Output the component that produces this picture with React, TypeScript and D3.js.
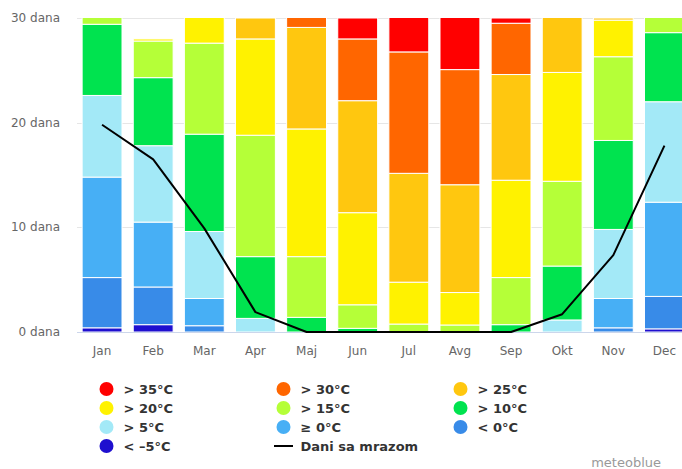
import React, { useRef, useEffect } from 'react';
import * as d3 from 'd3';

const months = ['Jan', 'Feb', 'Mar', 'Apr', 'Maj', 'Jun', 'Jul', 'Avg', 'Sep', 'Okt', 'Nov', 'Dec'];

// days per month in each temperature class (bottom to top of the stack)
const belowMinus5 = [0.4, 0.7, 0, 0, 0, 0, 0, 0, 0, 0, 0, 0.3];
const below0 = [4.8, 3.6, 0.6, 0, 0, 0, 0, 0, 0, 0, 0.4, 3.1];
const above0 = [9.6, 6.2, 2.6, 0, 0, 0, 0, 0, 0, 0, 2.8, 9.0];
const above5 = [7.8, 7.3, 6.4, 1.3, 0, 0, 0, 0, 0, 1.15, 6.6, 9.6];
const above10 = [6.8, 6.5, 9.3, 5.9, 1.4, 0.35, 0, 0, 0.7, 5.15, 8.5, 6.6];
const above15 = [1.6, 3.5, 8.7, 11.6, 5.8, 2.25, 0.76, 0.67, 4.5, 8.1, 8.0, 2.4];
const above20 = [0, 0.2, 3.4, 9.2, 12.2, 8.8, 4.0, 3.1, 9.3, 10.4, 3.5, 0];
const above25 = [0, 0, 0, 2.0, 9.7, 10.7, 10.4, 10.3, 10.1, 6.2, 0.2, 0];
const above30 = [0, 0, 0, 0, 1.9, 5.9, 11.6, 11.0, 4.9, 0, 0, 0];
const above35 = [0, 0, 0, 0, 0, 2.0, 4.2, 5.9, 0.5, 0, 0, 0];

const frostDays = [19.8, 16.5, 9.9, 1.9, 0, 0, 0, 0, 0, 1.7, 7.35, 17.8];

const yTicks = [0, 10, 20, 30];

const series = [
  { key: 'm5', name: '< –5°C', color: '#1f0fcf', values: belowMinus5 },
  { key: 'b0', name: '< 0°C', color: '#388be8', values: below0 },
  { key: 'a0', name: '≥ 0°C', color: '#47aff5', values: above0 },
  { key: 'a5', name: '> 5°C', color: '#a3e9f7', values: above5 },
  { key: 'a10', name: '> 10°C', color: '#00e34f', values: above10 },
  { key: 'a15', name: '> 15°C', color: '#b5ff38', values: above15 },
  { key: 'a20', name: '> 20°C', color: '#fff200', values: above20 },
  { key: 'a25', name: '> 25°C', color: '#ffc70f', values: above25 },
  { key: 'a30', name: '> 30°C', color: '#ff6600', values: above30 },
  { key: 'a35', name: '> 35°C', color: '#ff0000', values: above35 },
];

// legend order as in the picture (row by row, 3 columns)
const legendOrder = ['a35', 'a30', 'a25', 'a20', 'a15', 'a10', 'a5', 'a0', 'b0', 'm5'];

const App: React.FC = () => {
  const svgRef = useRef<SVGSVGElement>(null);

  useEffect(() => {
    if (!svgRef.current) return;
    const svg = d3.select(svgRef.current);
    svg.selectAll('*').remove();

    const width = 682;
    const height = 469;
    const top = 18;
    const bottom = 332;
    const font = '"DejaVu Sans", "Lucida Grande", sans-serif';

    svg.attr('width', width).attr('height', height);

    const x = d3.scaleBand<string>()
      .domain(months)
      .range([76.5, 690])
      .paddingInner(0.22)
      .paddingOuter(0.11);

    const y = d3.scaleLinear().domain([0, 30]).range([bottom, top]);

    // gridlines
    svg.append('g')
      .selectAll('line')
      .data(yTicks)
      .enter().append('line')
      .attr('x1', 77).attr('x2', width)
      .attr('y1', d => Math.round(y(d)) + 0.5)
      .attr('y2', d => Math.round(y(d)) + 0.5)
      .attr('stroke', '#e6e6e6');

    svg.append('g')
      .selectAll('text')
      .data(yTicks)
      .enter().append('text')
      .attr('x', 60)
      .attr('y', d => y(d) + 4)
      .attr('text-anchor', 'end')
      .attr('font-family', font)
      .attr('font-size', 12)
      .attr('fill', '#666')
      .text(d => `${d} dana`);

    svg.append('defs').append('clipPath')
      .attr('id', 'plot-clip')
      .append('rect')
      .attr('x', 70).attr('y', top).attr('width', width).attr('height', bottom - top);

    const table = months.map((m, i) => {
      const row: any = { month: m };
      series.forEach(s => { row[s.key] = s.values[i]; });
      return row;
    });

    const stacked = d3.stack<any>().keys(series.map(s => s.key))(table);

    const bars = svg.append('g').attr('clip-path', 'url(#plot-clip)');
    stacked.forEach((layer, li) => {
      bars.append('g')
        .selectAll('rect')
        .data(layer.filter(d => d[1] - d[0] > 0))
        .enter().append('rect')
        .attr('x', d => x(d.data.month) as number)
        .attr('width', x.bandwidth())
        .attr('y', d => y(d[1]))
        .attr('height', d => y(d[0]) - y(d[1]))
        .attr('fill', series[li].color)
        .attr('stroke', '#fff')
        .attr('stroke-width', 1);
    });

    // x axis line
    svg.append('line')
      .attr('x1', 77).attr('x2', width)
      .attr('y1', bottom + 0.5).attr('y2', bottom + 0.5)
      .attr('stroke', '#ccd6eb');

    svg.append('g')
      .selectAll('text')
      .data(months)
      .enter().append('text')
      .attr('x', d => (x(d) as number) + x.bandwidth() / 2)
      .attr('y', 355)
      .attr('text-anchor', 'middle')
      .attr('font-family', font)
      .attr('font-size', 12)
      .attr('fill', '#666')
      .text(d => d);

    // frost days line
    const line = d3.line<number>()
      .x((_, i) => (x(months[i]) as number) + x.bandwidth() / 2)
      .y(d => y(d));

    svg.append('path')
      .datum(frostDays)
      .attr('d', line)
      .attr('fill', 'none')
      .attr('stroke', '#000')
      .attr('stroke-width', 2)
      .attr('stroke-linejoin', 'round');

    // legend
    const colX = [106.5, 283.5, 460.5];
    const rowY = [389, 408, 427, 446];
    const legend = svg.append('g')
      .attr('font-family', font)
      .attr('font-size', 13)
      .attr('font-weight', 'bold')
      .attr('fill', '#333');

    legendOrder.forEach((k, i) => {
      const s = series.find(d => d.key === k)!;
      const cx = colX[i % 3];
      const cy = rowY[Math.floor(i / 3)];
      legend.append('circle')
        .attr('cx', cx).attr('cy', cy).attr('r', 7)
        .attr('fill', s.color);
      legend.append('text')
        .attr('x', cx + 17).attr('y', cy + 5)
        .text(s.name);
    });

    const ly = rowY[3];
    legend.append('line')
      .attr('x1', colX[1] - 9.5).attr('x2', colX[1] + 9.5)
      .attr('y1', ly).attr('y2', ly)
      .attr('stroke', '#000').attr('stroke-width', 2);
    legend.append('text')
      .attr('x', colX[1] + 17).attr('y', ly + 5)
      .text('Dani sa mrazom');

    svg.append('text')
      .attr('x', 661).attr('y', 467)
      .attr('text-anchor', 'end')
      .attr('font-family', font)
      .attr('font-size', 13)
      .attr('fill', '#999')
      .text('meteoblue');
  }, []);

  return (
    <svg ref={svgRef} style={{ position: 'absolute', left: 0, top: 0, display: 'block' }}></svg>
  );
};

export default App;
